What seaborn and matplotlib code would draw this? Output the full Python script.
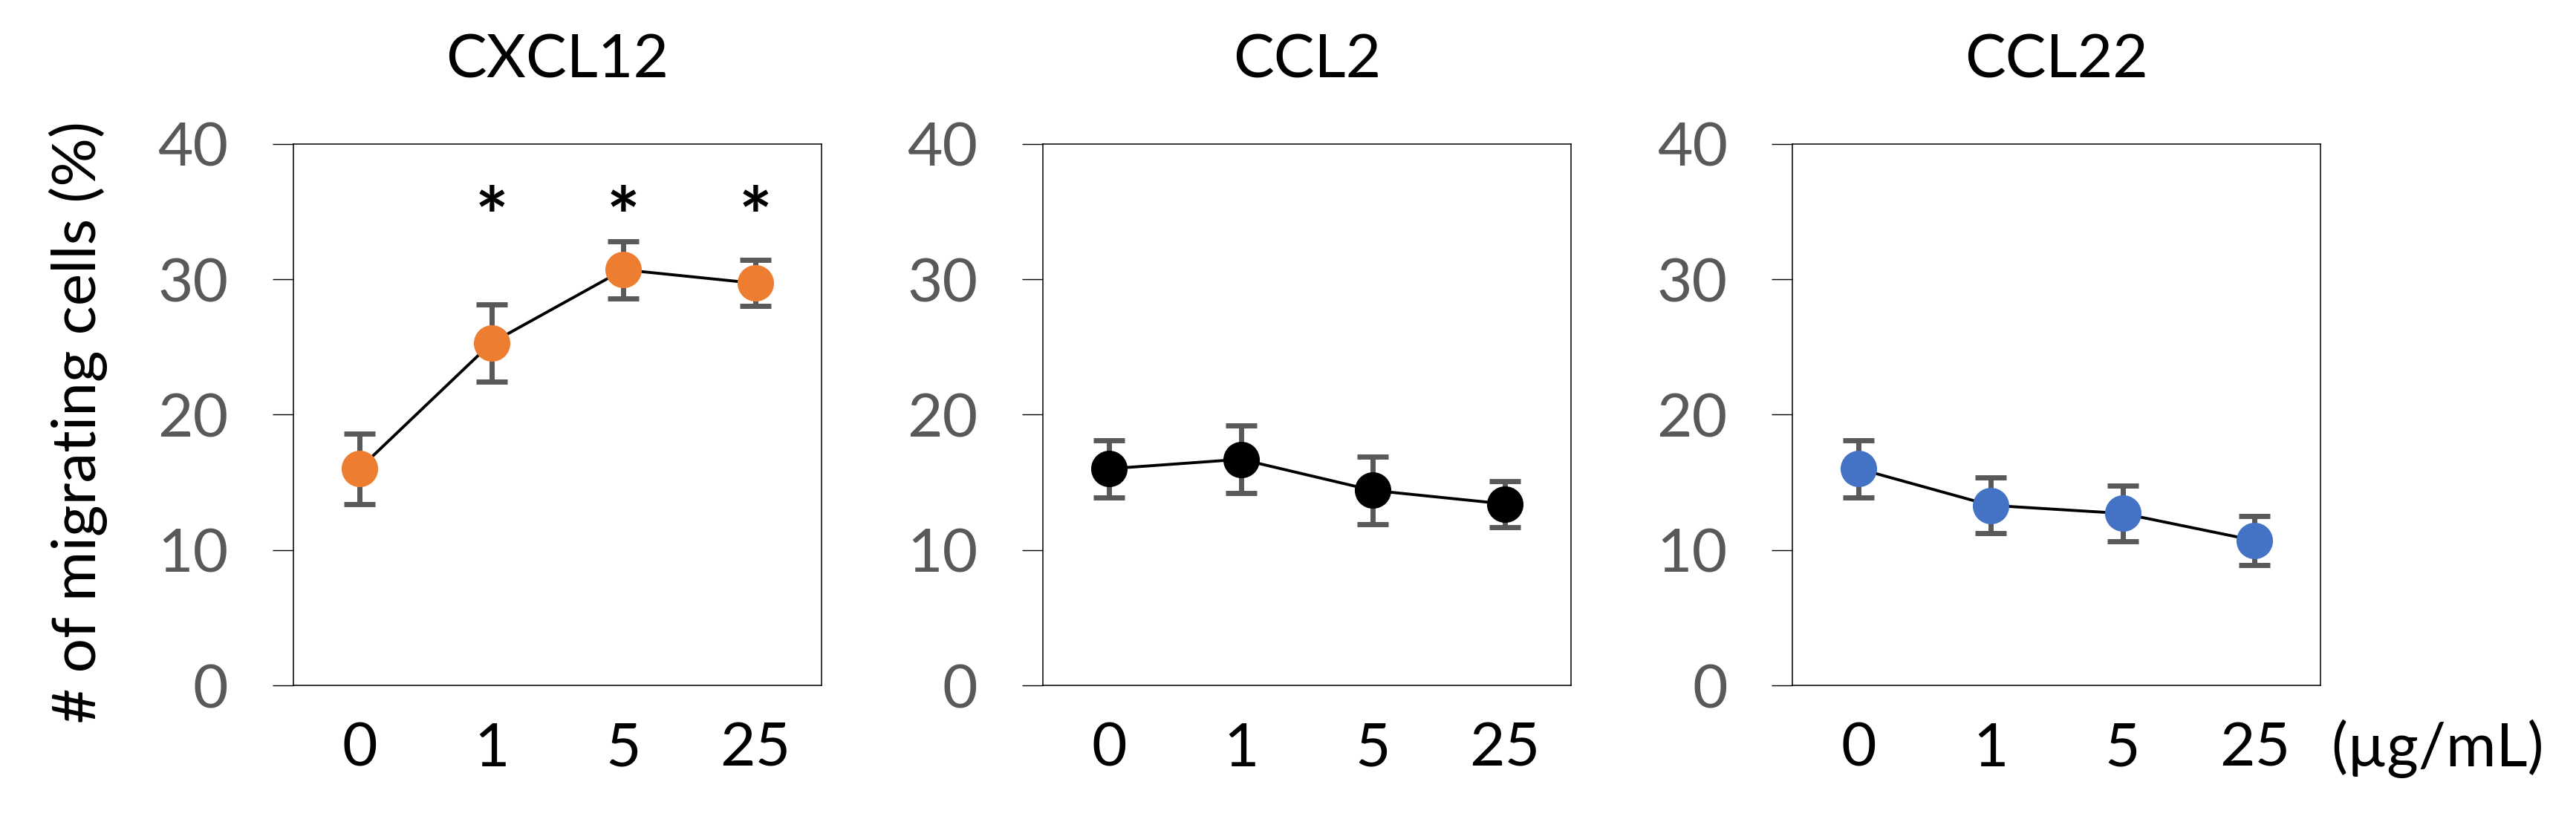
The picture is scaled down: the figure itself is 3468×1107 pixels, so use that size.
import matplotlib
matplotlib.use("Agg")
import matplotlib.pyplot as plt
import seaborn as sns

doses = ['0', '1', '5', '25']
panels = ['CXCL12', 'CCL2', 'CCL22']
cxcl12_mean = [16.0, 25.3, 30.7, 29.7]
cxcl12_err = [2.6, 2.85, 2.1, 1.7]
ccl2_mean = [16.0, 16.7, 14.4, 13.4]
ccl2_err = [2.1, 2.5, 2.5, 1.7]
ccl22_mean = [16.0, 13.3, 12.7, 10.7]
ccl22_err = [2.1, 2.05, 2.05, 1.8]
colors = ['#ED7D31', '#000000', '#4472C4']
star_idx = [1, 2, 3]
star_y = 32.6

sns.set_theme(style='white')
plt.rcParams['font.family'] = ['Lato', 'DejaVu Sans']

fig = plt.figure(figsize=(34.68, 11.07), dpi=100)
lefts = [395 / 3468, 1404 / 3468, 2413.3 / 3468]
bottom = 1 - 923 / 1107
height = (923 - 193.7) / 1107
width = 711 / 3468

means = [cxcl12_mean, ccl2_mean, ccl22_mean]
errs = [cxcl12_err, ccl2_err, ccl22_err]
xs = list(range(len(doses)))

for i, name in enumerate(panels):
    ax = fig.add_axes([lefts[i], bottom, width, height])
    sns.lineplot(x=xs, y=means[i], color='black', linewidth=2.8, ax=ax, zorder=1)
    ax.errorbar(xs, means[i], yerr=errs[i], fmt='none', ecolor='#595959',
                elinewidth=5, capsize=15, capthick=5, zorder=2)
    sns.scatterplot(x=xs, y=means[i], color=colors[i], s=1250, linewidth=0,
                    ax=ax, zorder=3)
    ax.set_xlim(-0.5, 3.5)
    ax.set_ylim(0, 40)
    ax.set_yticks([0, 10, 20, 30, 40])
    ax.set_xticks(xs)
    ax.set_xticklabels(doses)
    ax.tick_params(axis='y', direction='out', length=20, width=1, pad=43,
                   labelsize=59, labelcolor='#595959', color='black', left=True)
    ax.tick_params(axis='x', length=0, pad=35, labelsize=59, labelcolor='black')
    for sp in ax.spines.values():
        sp.set_visible(True)
        sp.set_color('black')
        sp.set_linewidth(1.1)
    ax.set_title(name, fontsize=59, pad=64, color='black')
    if i == 0:
        for k in star_idx:
            ax.text(k, star_y, '*', ha='center', va='baseline', fontsize=76,
                    fontweight='bold', color='black')

fig.text(105 / 3468, 1 - 569 / 1107, '# of migrating cells (%)', rotation=90,
         ha='center', va='center', fontsize=59, color='black')
fig.text(3138 / 3468, 1 - 1032 / 1107, '(\u00b5g/mL)', ha='left', va='baseline',
         fontsize=59, color='black')

fig.savefig('out.png', dpi=100, facecolor='white')
